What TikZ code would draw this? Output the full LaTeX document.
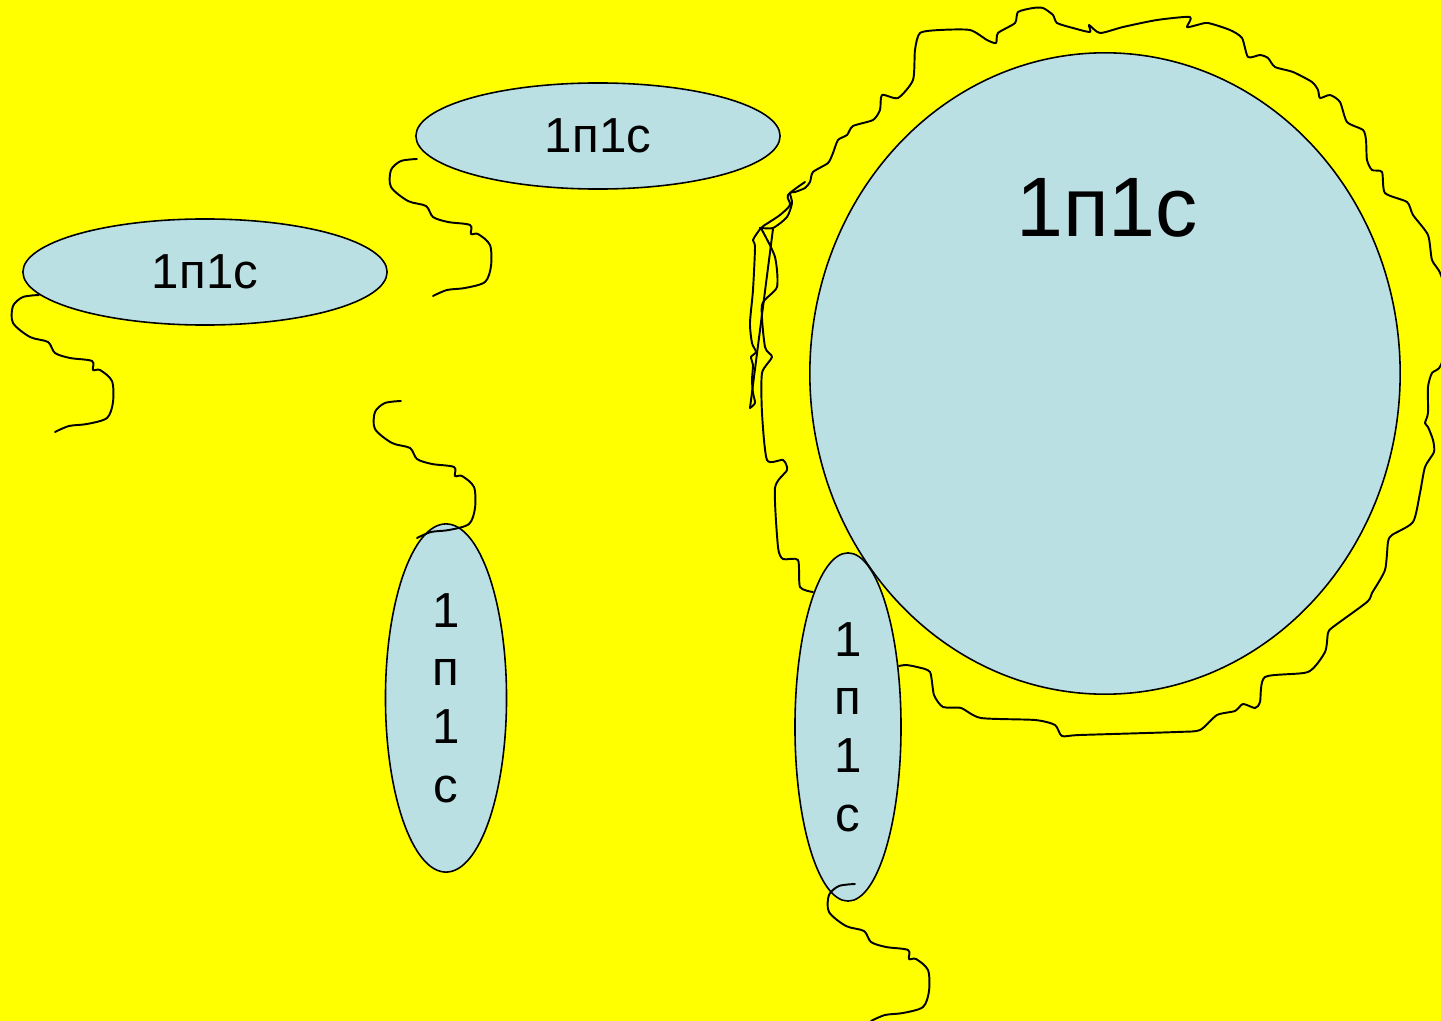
\documentclass[tikz,border=0pt]{standalone}
\usepackage{fontspec}
\setmainfont{Liberation Sans}
\usetikzlibrary{shapes.geometric}
\definecolor{bubble}{RGB}{187,224,227}
\definecolor{sun}{RGB}{255,255,0}
\begin{document}
\begin{tikzpicture}[x=0.01cm,y=-0.01cm,
  blob/.style={ellipse,draw,fill=bubble,inner sep=0pt,line width=0.45pt},
  smalltext/.style={font=\fontsize{14}{16.6}\selectfont},
  wiggle/.style={line width=0.55pt,line join=round,line cap=round}]
\fill[sun] (0,0) rectangle (1441,1021);
\useasboundingbox (0,0) rectangle (1441,1021);
\clip (0,0) rectangle (1441,1021);
% outline round the big one
\draw[wiggle] plot[smooth,tension=0.4] coordinates {
 (813,592) (800,587) (798,560) (783,559) (778,547) (775,488) (787,470) (783,460)
 (767,460) (762,413) (762,373) (772,357) (765,347) (762,305) (777,287) (775,257)
 (762,230) (760,228) (773,228) (787,217) (792,203) (790,193) (795,192) (805,188)
 (810,182) (813,172) (828,163) (833,153) (838,140) (847,135) (853,126) (873,120)
 (880,110) (882,95) (898,98) (913,80) (915,50) (920,33) (940,30) (970,30) (987,40)
 (996,43) (998,33) (1015,23) (1018,12) (1033,8) (1043,8) (1053,15) (1057,23)
 (1073,28) (1090,32) (1089,25) (1100,33) (1123,27) (1157,20) (1190,17) (1187,27)
 (1197,25) (1208,23) (1230,30) (1242,38) (1248,57) (1260,55) (1268,58) (1275,67)
 (1293,72) (1312,82) (1318,90) (1320,98) (1330,95) (1340,102) (1347,122) (1363,130)
 (1366,140) (1367,160) (1372,170) (1382,172) (1385,193) (1407,202) (1413,215)
 (1428,235) (1432,260) (1441,275) (1452,320) (1441,365) (1432,373) (1428,387)
 (1428,413) (1425,423) (1428,427) (1433,440) (1434,452) (1425,467) (1420,493)
 (1413,522) (1392,535) (1388,542) (1385,570) (1372,593) (1367,602) (1333,627)
 (1328,633) (1325,652) (1308,672) (1265,677) (1260,702) (1255,708) (1243,704)
 (1235,711) (1217,715) (1200,730) (1177,732) (1080,735) (1062,736) (1055,725)
 (1035,720) (981,718) (961,708) (943,707) (934,695) (930,672) (917,667) (906,665)
 (899,666)};
% scribble on the left
\draw[wiggle] plot[smooth,tension=0.45] coordinates {
 (750,408) (755,403) (753,393) (752,380) (753,365) (751,357) (756,352) (752,343)
 (750,323) (753,290) (755,247) (753,240) (761,228) (768,223) (780,215) (790,205)
 (788,195) (805,182)};
\draw[wiggle] (773,229) -- (750,408);
% the blobs
\node[blob,minimum width=5.9cm,minimum height=6.41cm] (big) at (1105,373.5) {};
\node[font=\fontsize{24}{29}\selectfont] (bigtext) at (1107,208) {1п1с};
\node[blob,smalltext,minimum width=3.64cm,minimum height=1.06cm] (left) at (205,272) {1п1с};
\node[blob,smalltext,minimum width=3.64cm,minimum height=1.06cm] (top) at (598,136) {1п1с};
\node[blob,smalltext,align=center,minimum width=1.21cm,minimum height=3.48cm] (mid) at (446,698) {1\\п\\1\\с};
\node[blob,smalltext,align=center,minimum width=1.06cm,minimum height=3.48cm] (right) at (848,727) {1\\п\\1\\с};
% tails
\foreach \x/\y in {39/295,417/159,401/401,855/884}
\draw[wiggle,shift={(\x,\y)}] plot[smooth,tension=0.5] coordinates {
 (0,0) (-16,2) (-26,11) (-26,28) (-9,42) (9,47) (16,58) (31,63) (53,66) (54,75)
 (61,75) (73,86) (74,107) (68,123) (48,129) (30,131) (16,137)};
\end{tikzpicture}
\end{document}
